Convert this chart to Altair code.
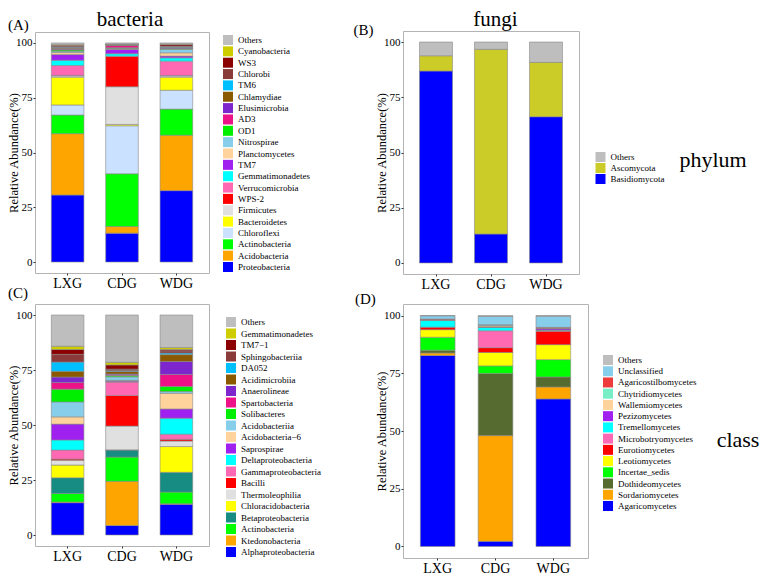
import altair as alt
import pandas as pd

sites = ["LXG", "CDG", "WDG"]

# ---------- Panel A: bacteria, phylum (bottom -> top stack order) ----------
a_taxa = ["Proteobacteria", "Acidobacteria", "Actinobacteria", "Chloroflexi", "Bacteroidetes",
          "Firmicutes", "WPS-2", "Verrucomicrobia", "Gemmatimonadetes", "TM7", "Planctomycetes",
          "Nitrospirae", "OD1", "AD3", "Elusimicrobia", "Chlamydiae", "TM6", "Chlorobi", "WS3",
          "Cyanobacteria", "Others"]
a_colors = ["#0000FF", "#FFA500", "#00FF00", "#CAE1FF", "#FFFF00", "#E0E0E0", "#FF0000", "#FF69B4",
            "#00FFFF", "#A020F0", "#FFD39B", "#87CEEB", "#00EE00", "#EE1289", "#7D26CD", "#8B5A00",
            "#00BFFF", "#8B3A3A", "#8B0000", "#CDCD00", "#BEBEBE"]
a_LXG = [30.6, 28.0, 8.5, 4.6, 12.7, 0.6, 0.2, 4.5, 2.4, 2.6, 0.9, 0.6, 0.6, 0.3, 0.3, 0.3, 0.3, 0.4, 0.6, 0.2, 0.8]
a_CDG = [13.2, 3.0, 24.1, 21.9, 0.6, 17.2, 13.8, 0.2, 1.1, 2.0, 0.3, 0.2, 0.2, 1.0, 0.2, 0.1, 0.1, 0.1, 0.1, 0.1, 0.5]
a_WDG = [32.6, 25.3, 11.9, 8.6, 6.0, 0.6, 0.1, 6.6, 1.5, 0.8, 1.5, 1.6, 0.3, 0.2, 0.2, 0.2, 0.3, 0.3, 0.7, 0.2, 0.5]

# ---------- Panel B: fungi, phylum ----------
b_taxa = ["Basidiomycota", "Ascomycota", "Others"]
b_colors = ["#0000FF", "#CCCC29", "#BEBEBE"]
b_LXG = [86.9, 6.9, 6.2]
b_CDG = [13.1, 83.6, 3.3]
b_WDG = [66.2, 24.6, 9.2]

# ---------- Panel C: bacteria, class ----------
c_taxa = ["Alphaproteobacteria", "Ktedonobacteria", "Actinobacteria", "Betaproteobacteria",
          "Chloracidobacteria", "Thermoleophilia", "Bacilli", "Gammaproteobacteria",
          "Deltaproteobacteria", "Saprospirae", "Acidobacteria\u22126", "Acidobacteriia",
          "Solibacteres", "Spartobacteria", "Anaerolineae", "Acidimicrobiia", "DA052",
          "Sphingobacteriia", "TM7\u22121", "Gemmatimonadetes", "Others"]
c_colors = ["#0000FF", "#FFA500", "#00FF00", "#178C82", "#FFFF00", "#E0E0E0", "#FF0000", "#FF69B4",
            "#00FFFF", "#A020F0", "#FFD39B", "#87CEEB", "#00EE00", "#EE1289", "#7D26CD", "#8B5A00",
            "#00BFFF", "#8B3A3A", "#8B0000", "#CDCD00", "#BEBEBE"]
c_LXG = [14.7, 0.3, 3.9, 7.1, 5.8, 2.2, 0.5, 4.1, 4.6, 7.2, 3.3, 6.8, 5.8, 3.0, 2.5, 2.6, 4.2, 3.5, 2.2, 1.5, 14.2]
c_CDG = [4.3, 20.1, 11.0, 3.2, 0.1, 10.8, 13.9, 6.1, 0.3, 0.3, 0.2, 1.6, 0.6, 0.3, 0.4, 1.1, 0.4, 0.7, 1.9, 1.2, 21.5]
c_WDG = [14.0, 0.2, 5.3, 9.0, 11.7, 2.5, 0.8, 2.3, 7.3, 4.2, 7.1, 0.8, 2.3, 5.5, 5.9, 3.1, 0.7, 1.0, 0.6, 0.9, 14.8]

# ---------- Panel D: fungi, class ----------
d_taxa = ["Agaricomycetes", "Sordariomycetes", "Dothideomycetes", "Incertae_sedis", "Leotiomycetes",
          "Eurotiomycetes", "Microbotryomycetes", "Tremellomycetes", "Pezizomycetes",
          "Wallemiomycetes", "Chytridiomycetes", "Agaricostilbomycetes", "Unclassified", "Others"]
d_colors = ["#0000FF", "#FFA500", "#556B2F", "#00FF00", "#FFFF00", "#FF0000", "#FF69B4", "#00FFFF",
            "#A020F0", "#FFD39B", "#76EEC6", "#EE3B3B", "#87CEEB", "#BEBEBE"]
d_LXG = [82.7, 1.1, 1.2, 5.6, 3.3, 1.0, 0.1, 2.9, 0.1, 0.1, 0.1, 0.3, 1.4, 0.1]
d_CDG = [2.2, 45.8, 26.9, 3.3, 5.8, 2.1, 7.3, 1.5, 0.1, 0.5, 0.4, 0.1, 3.6, 0.4]
d_WDG = [63.9, 5.2, 4.3, 7.5, 6.5, 5.8, 0.3, 0.2, 0.6, 0.1, 0.1, 0.4, 4.8, 0.3]

FONT = "Liberation Serif"


def label(text, x, y, size, align="left"):
    return alt.Chart(alt.Data(values=[{"t": text}])).mark_text(
        align=align, baseline="alphabetic", fontSize=size, font=FONT, color="black"
    ).encode(text="t:N", x=alt.value(x), y=alt.value(y))


def panel(taxa, colors, series, width, height, lx, ly, rowpad, texts):
    rows = []
    for s, vals in zip(sites, series):
        for k, (t, v) in enumerate(zip(taxa, vals)):
            rows.append({"site": s, "taxon": t, "value": v, "k": k})
    df = pd.DataFrame(rows)
    bars = alt.Chart(df).mark_bar(stroke="#8a8a8a", strokeWidth=0.6).encode(
        x=alt.X("site:N", sort=sites,
                scale=alt.Scale(paddingInner=0.4, paddingOuter=0.3),
                axis=alt.Axis(title=None, labelAngle=0)),
        y=alt.Y("value:Q", stack="zero",
                scale=alt.Scale(domain=[-5, 105], nice=False),
                axis=alt.Axis(values=[0, 25, 50, 75, 100], title="Relative Abundance(%)",
                              titleX=-18, titleBaseline="alphabetic")),
        color=alt.Color("taxon:N",
                        scale=alt.Scale(domain=taxa[::-1], range=colors[::-1]),
                        legend=alt.Legend(orient="none", legendX=lx, legendY=ly,
                                          rowPadding=rowpad, title=None)),
        order=alt.Order("k:Q", sort="ascending"),
    )
    layers = [bars] + [label(*t) for t in texts]
    return alt.layer(*layers).properties(width=width, height=height)


pA = panel(a_taxa, a_colors, [a_LXG, a_CDG, a_WDG], 174, 241, 188, 3, 1.35,
           [("(A)", -27, -2, 15), ("bacteria", 95, -6, 21, "center")])
pB = panel(b_taxa, b_colors, [b_LXG, b_CDG, b_WDG], 176, 243, 192.5, 121, 1.0,
           [("(B)", -49.5, 4, 15), ("fungi", 92.5, -5, 21, "center"),
            ("phylum", 310, 136, 22, "center")])
pC = panel(c_taxa, c_colors, [c_LXG, c_CDG, c_WDG], 174, 242, 191, 13, 1.5,
           [("(C)", -27, -6, 15)])
pD = panel(d_taxa, d_colors, [d_LXG, d_CDG, d_WDG], 185, 254, 200, 51, 1.23,
           [("(D)", -48, 0, 15), ("class", 335, 143, 22, "center")])

chart = alt.concat(
    pA, pB, pC, pD, columns=2,
    spacing={"row": 30, "column": 194}, bounds="flush", center=True
).resolve_scale(
    color="independent", x="independent", y="independent"
).properties(
    autosize=alt.AutoSizeParams(type="none"),
    padding={"left": 27, "top": 23, "right": 734, "bottom": 544},
    background="white",
).configure_view(
    stroke="#b3b3b3", strokeWidth=1
).configure_axis(
    labelFont=FONT, titleFont=FONT, labelColor="black", titleColor="black",
    titleFontWeight="normal", domain=False, grid=False, tickColor="#333333",
    tickSize=2, labelPadding=1,
).configure_axisX(
    labelFontSize=14, labelPadding=1, tickSize=2
).configure_axisY(
    labelFontSize=11, titleFontSize=12.5
).configure_legend(
    symbolType="square", symbolSize=100, symbolStrokeWidth=0, labelFont=FONT,
    labelFontSize=9, labelColor="black", labelOffset=5, padding=0,
)

chart.save("out.html", embed_options={"renderer": "svg", "actions": False})
